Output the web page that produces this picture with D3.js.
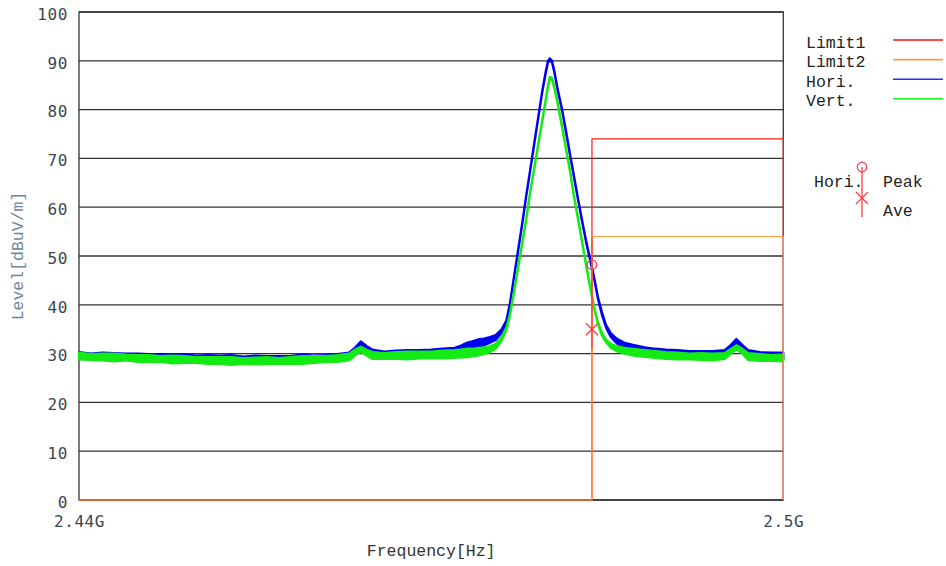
<!DOCTYPE html>
<html>
<head>
<meta charset="utf-8">
<script src="https://cdn.jsdelivr.net/npm/d3@7"></script>
<style>
body { margin: 0; background: #fff; }
svg { display: block; }
</style>
</head>
<body>
<article class="content"></article>
<script>
var w = 946;
var h = 566;

// frequency points in MHz
var freq = [2440,2441,2442,2443,2444,2445,2446,2447,2448,2449,2450,2451,2452,2453,2454,2455,2456,2457,2458,2459,2460,2461,2462,2463,
    2463.5,2464,2464.5,
    2465,2466,2467,2468,2469,2470,2471,2472,
    2472.5,2473,2473.5,2474,2474.5,2475,2475.5,2476,2476.4,
    2476.7,2477.05,2477.4,2477.75,2478.1,2478.4,2478.75,2479.1,2479.45,2479.75,
    2479.95,2480.1,2480.3,2480.5,2480.8,2481.15,2481.5,2481.85,2482.15,2482.5,
    2482.85,2483.2,2483.55,2483.9,2484.2,2484.55,2484.9,2485.3,2485.8,2486.5,
    2487.2,2488.2,2489.1,
    2490,2491,2492,2493,2494,2495,
    2495.5,2496,2496.5,
    2497,2498,2499,2500];

// Hori. trace (dBuV/m)
var hori = [29.6,29.4,29.5,29.3,29.4,29.3,29.2,29.3,29.1,29.2,29.0,29.0,28.9,28.9,28.8,28.9,28.8,28.9,28.8,29.0,28.9,29.1,29.2,29.5,
    30.6,32.0,31.0,
    30.1,29.8,29.9,29.9,30.0,30.1,30.2,30.4,
    30.8,31.3,31.7,32.1,32.4,32.8,33.3,34.6,36.5,
    40.0,45.5,51.0,56.5,62.3,67.0,72.5,78.0,83.5,87.5,
    89.8,90.3,89.8,87.7,83.8,80.0,75.3,70.5,66.5,61.8,
    57.3,53.0,49.2,45.3,41.5,38.2,35.6,33.8,32.6,31.6,
    31.1,30.6,30.3,
    30.1,30.0,29.9,29.8,29.8,30.1,
    31.2,32.6,31.3,
    30.0,29.6,29.6,29.5];

// Vert. trace (dBuV/m)
var vert = [29.5,29.3,29.3,29.2,29.2,29.0,29.0,28.9,28.8,28.8,28.7,28.6,28.6,28.5,28.5,28.5,28.6,28.5,28.6,28.7,28.8,28.9,29.0,29.3,
    30.2,30.9,30.2,
    29.6,29.5,29.6,29.6,29.7,29.7,29.8,29.9,
    30.0,30.1,30.2,30.4,30.6,30.9,31.5,33.0,35.0,
    37.8,42.5,47.5,52.5,57.5,62.5,67.5,72.5,77.5,81.8,
    84.8,86.5,86.3,84.5,81.0,76.5,71.8,67.2,62.5,57.8,
    53.0,48.2,43.6,39.3,36.3,34.0,32.6,31.6,31.0,30.6,
    30.3,30.0,29.8,
    29.6,29.5,29.4,29.4,29.3,29.5,
    30.4,31.3,30.5,
    29.4,29.2,29.1,29.1];

// half width of the noise band seen on both traces (dB)
var noise = [0.7,0.6,0.7,0.8,0.6,0.7,0.7,0.6,0.8,0.7,0.6,0.7,0.7,0.8,0.6,0.7,0.7,0.6,0.7,0.8,0.7,0.6,0.7,0.7,
    0.6,0.5,0.6,
    0.7,0.6,0.7,0.8,0.7,0.7,0.8,0.8,
    0.8,0.9,0.8,0.8,0.7,0.6,0.5,0.4,0.3,
    0.2,0.2,0.2,0.2,0.2,0.2,0.2,0.2,0.2,0.2,
    0.2,0.2,0.2,0.2,0.2,0.2,0.2,0.2,0.2,0.2,
    0.2,0.2,0.2,0.2,0.2,0.3,0.3,0.4,0.5,0.6,
    0.7,0.7,0.7,
    0.7,0.7,0.6,0.7,0.7,0.6,
    0.5,0.4,0.5,
    0.7,0.7,0.6,0.7];

// limit lines
var limitFreq = [2440, 2483.7, 2483.7, 2500, 2500];
var limit1 = [0, 0, 74, 74, 0];
var limit2 = [0, 0, 54, 54, 0];

// marker (Hori.)
var markerFreq = 2483.7;
var markerPeak = 48.2;
var markerAve = 35.0;

var yTicks = [0, 10, 20, 30, 40, 50, 60, 70, 80, 90, 100];
var xTicks = [2440, 2500];
var xTickLabels = ["2.44G", "2.5G"];

var legendNames = ["Limit1", "Limit2", "Hori.", "Vert."];
var legendColors = ["#ff1010", "#ff9c40", "#2030ff", "#20ee20"];

var plotLeft = 79, plotRight = 783.3, plotTop = 12, plotBottom = 500;
var mono = "'Liberation Mono', 'DejaVu Sans Mono', monospace";
var tickFont = "'DejaVu Sans Mono', monospace";

var xScale = d3.scaleLinear()
    .domain([2440, 2500])
    .range([plotLeft, plotRight]);

var yScale = d3.scaleLinear()
    .domain([0, 100])
    .range([plotBottom, plotTop]);

var svg = d3.select("article.content")
    .append("svg")
    .attr("width", w)
    .attr("height", h);

// grid
svg.selectAll("line.grid")
    .data(yTicks)
    .enter()
    .append("line")
    .attr("class", "grid")
    .attr("x1", plotLeft)
    .attr("x2", plotRight)
    .attr("y1", function(d) { return yScale(d); })
    .attr("y2", function(d) { return yScale(d); })
    .attr("stroke", "#333")
    .attr("stroke-width", 1.3);

svg.append("rect")
    .attr("x", plotLeft)
    .attr("y", plotTop)
    .attr("width", plotRight - plotLeft)
    .attr("height", plotBottom - plotTop)
    .attr("fill", "none")
    .attr("stroke", "#333")
    .attr("stroke-width", 1.3);

// axes
var yAxis = d3.axisLeft(yScale).tickValues(yTicks).tickSize(0).tickPadding(11);
var gy = svg.append("g")
    .attr("transform", "translate(" + plotLeft + ",0)")
    .call(yAxis);
gy.select(".domain").remove();
gy.selectAll("text")
    .attr("dy", "0.45em")
    .attr("fill", "#3c4652")
    .style("font-family", tickFont)
    .style("font-size", "16px")
    .style("letter-spacing", "0.6px");

var xAxis = d3.axisBottom(xScale)
    .tickValues(xTicks)
    .tickSize(0)
    .tickPadding(16)
    .tickFormat(function(d, i) { return xTickLabels[i]; });
var gx = svg.append("g")
    .attr("transform", "translate(0," + plotBottom + ")")
    .call(xAxis);
gx.select(".domain").remove();
gx.selectAll("text")
    .attr("fill", "#3c4652")
    .style("font-family", tickFont)
    .style("font-size", "16px")
    .style("letter-spacing", "0.6px");

svg.append("text")
    .attr("x", (plotLeft + plotRight) / 2)
    .attr("y", 556)
    .attr("text-anchor", "middle")
    .attr("fill", "#333")
    .style("font-family", mono)
    .style("font-size", "16.5px")
    .text("Frequency[Hz]");

svg.append("text")
    .attr("transform", "translate(23," + ((plotTop + plotBottom) / 2) + ") rotate(-90)")
    .attr("text-anchor", "middle")
    .attr("fill", "#6d86a3")
    .style("font-family", mono)
    .style("font-size", "16.5px")
    .text("Level[dBuV/m]");

// traces
var traceArea = function(values) {
    return d3.area()
        .x(function(d, i) { return xScale(freq[i]); })
        .y0(function(d, i) { return yScale(values[i] - noise[i]); })
        .y1(function(d, i) { return yScale(values[i] + noise[i]); });
};

svg.append("path")
    .datum(hori)
    .attr("d", traceArea(hori))
    .attr("fill", "#0000f2")
    .attr("stroke", "#0000f2")
    .attr("stroke-width", 2.2)
    .attr("stroke-linejoin", "round");

svg.append("path")
    .datum(vert)
    .attr("d", traceArea(vert))
    .attr("fill", "#14ea14")
    .attr("stroke", "#14ea14")
    .attr("stroke-width", 2.2)
    .attr("stroke-linejoin", "round");

// limits
var limitLine = function(values) {
    return d3.line()
        .x(function(d, i) { return xScale(limitFreq[i]); })
        .y(function(d, i) { return yScale(values[i]); });
};

svg.append("path")
    .datum(limit1)
    .attr("d", limitLine(limit1))
    .attr("fill", "none")
    .attr("stroke", "#ff1a1a")
    .attr("stroke-width", 1.2);

svg.append("path")
    .datum(limit2)
    .attr("d", limitLine(limit2))
    .attr("fill", "none")
    .attr("stroke", "#ff9c40")
    .attr("stroke-width", 1.2);

// marker symbol: circle = peak, cross = average, with a drop line
function drawMarker(g, x, yStart, yPeak, yAve, tail) {
    g.append("line")
        .attr("x1", x).attr("x2", x)
        .attr("y1", yStart).attr("y2", yAve + tail)
        .attr("stroke", "#ff3b3b")
        .attr("stroke-width", 1.3);
    g.append("circle")
        .attr("cx", x).attr("cy", yPeak).attr("r", 4.8)
        .attr("fill", "none")
        .attr("stroke", "#ff3b4b")
        .attr("stroke-width", 1.2);
    g.append("path")
        .attr("d", "M" + (x - 6) + "," + (yAve - 6) + "L" + (x + 6) + "," + (yAve + 6) +
            "M" + (x - 6) + "," + (yAve + 6) + "L" + (x + 6) + "," + (yAve - 6))
        .attr("stroke", "#ff3b3b")
        .attr("stroke-width", 1.3);
}

// on the chart the drop line starts at the Limit2 level
drawMarker(svg.append("g"), xScale(markerFreq), yScale(limit2[2]), yScale(markerPeak), yScale(markerAve), 19);

// legend
var legend = svg.selectAll("g.legend")
    .data(legendNames)
    .enter()
    .append("g")
    .attr("class", "legend")
    .attr("transform", function(d, i) { return "translate(0," + (40 + i * 19.6) + ")"; });

legend.append("text")
    .attr("x", 806)
    .attr("y", 3)
    .attr("dominant-baseline", "central")
    .attr("fill", "#222")
    .style("font-family", mono)
    .style("font-size", "16.5px")
    .text(function(d) { return d; });

legend.append("line")
    .attr("x1", 893)
    .attr("x2", 943)
    .attr("stroke", function(d, i) { return legendColors[i]; })
    .attr("stroke-width", 1.6);

var mk = svg.append("g");
drawMarker(mk, 862, 167, 167, 198, 19);
mk.append("text").attr("x", 814).attr("y", 182).attr("dominant-baseline", "central")
    .attr("fill", "#222").style("font-family", mono).style("font-size", "16.5px").text("Hori.");
mk.append("text").attr("x", 883).attr("y", 182).attr("dominant-baseline", "central")
    .attr("fill", "#222").style("font-family", mono).style("font-size", "16.5px").text("Peak");
mk.append("text").attr("x", 883).attr("y", 211).attr("dominant-baseline", "central")
    .attr("fill", "#222").style("font-family", mono).style("font-size", "16.5px").text("Ave");
</script>
</body>
</html>
